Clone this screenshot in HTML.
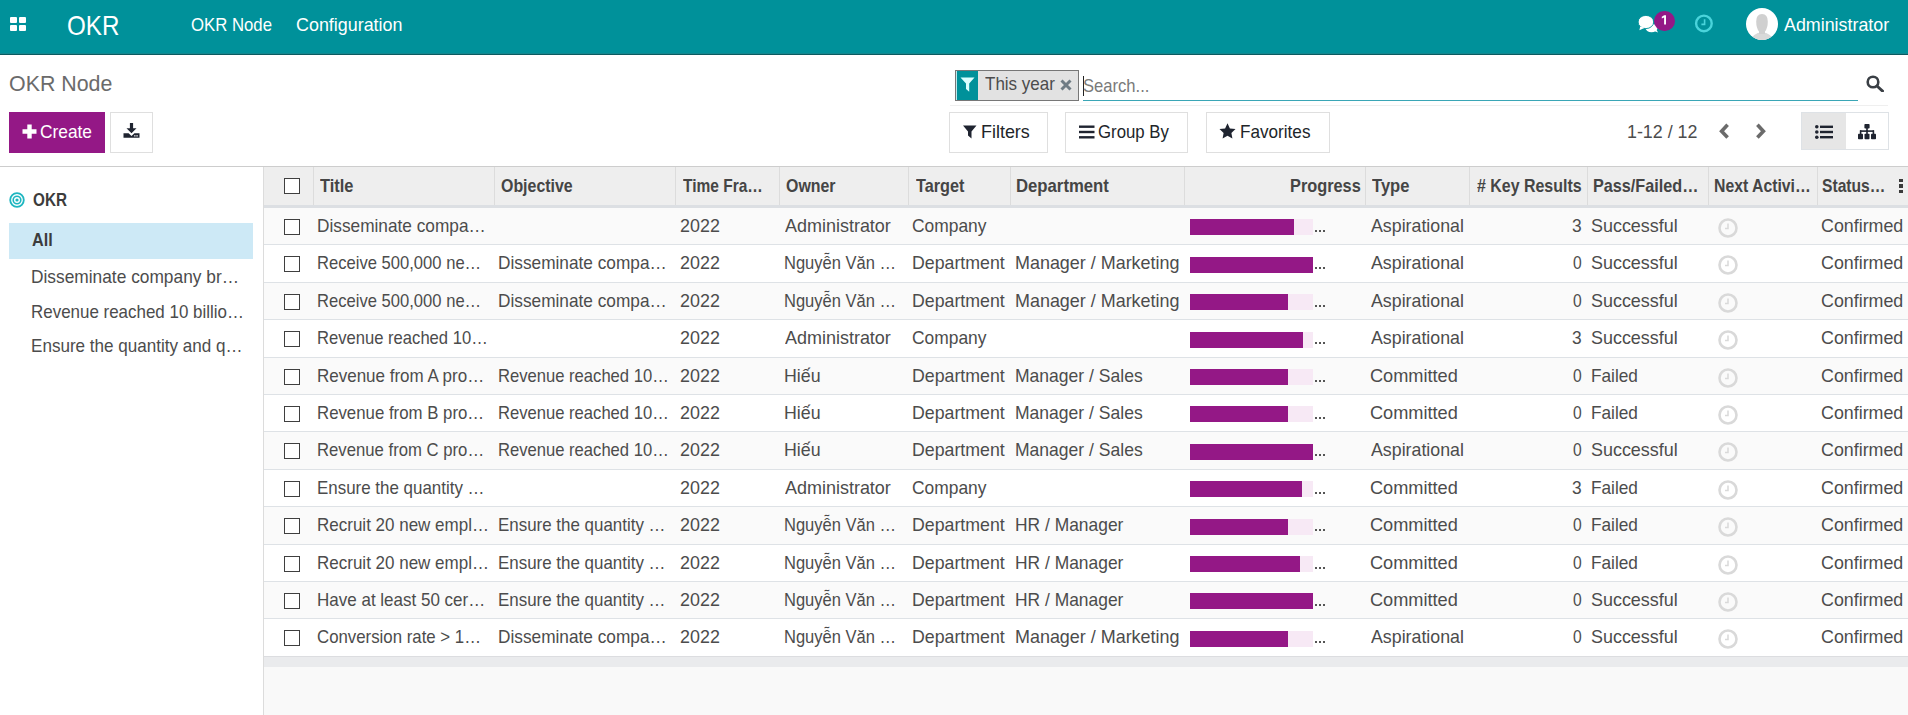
<!DOCTYPE html><html><head><meta charset='utf-8'><title>OKR Node</title><style>
*{box-sizing:border-box}
html,body{margin:0;padding:0}
body{width:1908px;height:715px;overflow:hidden;position:relative;font-family:"Liberation Sans",sans-serif;color:#4c4c4c;background:#fff;font-size:18.2px}
.a{position:absolute;white-space:nowrap}
.t{position:absolute;white-space:nowrap;line-height:24px;transform-origin:0 0}
.btn{position:absolute;border:1px solid #dfdfdf;background:#fff}
.cb{position:absolute;width:16px;height:16px;border:1px solid #3f3f3f;background:#fff}
</style></head><body>
<div class='a' style='left:0;top:0;width:1908px;height:54px;background:#00919a'></div>
<div class='a' style='left:0;top:53px;width:1908px;height:1px;background:#14878f'></div>
<div class='a' style='left:0;top:54px;width:1908px;height:1px;background:#0b5a60'></div>
<div class='a' style='left:10px;top:17px;width:7.2px;height:6.3px;background:#fff;border-radius:1px'></div>
<div class='a' style='left:18.8px;top:17px;width:7.2px;height:6.3px;background:#fff;border-radius:1px'></div>
<div class='a' style='left:10px;top:25px;width:7.2px;height:6.3px;background:#fff;border-radius:1px'></div>
<div class='a' style='left:18.8px;top:25px;width:7.2px;height:6.3px;background:#fff;border-radius:1px'></div>
<div class='t' style='left:67.14px;top:14.00px;transform:scaleX(0.8644);font-size:28px;color:#fff'>OKR</div>
<div class='t' style='left:190.68px;top:12.90px;transform:scaleX(0.9209);color:#fff'>OKR Node</div>
<div class='t' style='left:295.72px;top:12.90px;transform:scaleX(0.9840);color:#fff'>Configuration</div>
<svg class='a' style='left:1636px;top:13px' width='24' height='21' viewBox='0 0 24 21'>
<ellipse cx='15.5' cy='15' rx='6' ry='4.2' fill='#fff'/><path d='M17 17.5 L22 19.5 L19.5 15 Z' fill='#fff'/>
<ellipse cx='9.9' cy='9' rx='7.8' ry='6.6' fill='#fff' stroke='#00919a' stroke-width='0.9'/><path d='M4.2 13.5 L3.4 17.2 L8.8 14.8 Z' fill='#fff'/></svg>
<div class='a' style='left:1653.5px;top:11px;width:21.5px;height:19.5px;border-radius:10px;background:#941886'></div>
<svg class='a' style='left:1660px;top:15px' width='8' height='10' viewBox='0 0 8 10'><path d='M4.2 0.3H6V9.4H4.1V2.6L1.8 3.4V1.8Z' fill='#fff'/></svg>
<svg class='a' style='left:1694px;top:14px' width='19' height='19' viewBox='0 0 19 19'>
<circle cx='9.9' cy='9.4' r='7.8' fill='none' stroke='#4ad4db' stroke-width='2.4'/><path d='M10.6 5.2 V10.4 H7.4' fill='none' stroke='#4ad4db' stroke-width='1.6'/></svg>
<svg class='a' style='left:1746px;top:8px' width='32' height='32' viewBox='0 0 32 32'>
<defs><clipPath id='av'><circle cx='16' cy='16' r='16'/></clipPath></defs>
<circle cx='16' cy='16' r='16' fill='#fff'/>
<g clip-path='url(#av)'><ellipse cx='16' cy='33' rx='11' ry='8.5' fill='#d9d9d9'/><path d='M10.2 13.5 Q10.2 6 16 6 Q21.8 6 21.8 13.5 Q21.8 20 19 23.5 L19 26 L13 26 L13 23.5 Q10.2 20 10.2 13.5 Z' fill='#d0d0d0'/></g></svg>
<div class='t' style='left:1784.00px;top:12.90px;transform:scaleX(0.9813);color:#fff'>Administrator</div>
<div class='t' style='left:8.56px;top:70.90px;transform:scaleX(0.9398);font-size:22.75px;color:#6b6b6b'>OKR Node</div>
<div class='a' style='left:9px;top:112px;width:96px;height:41px;background:#941886'></div>
<svg class='a' style='left:22px;top:123.5px' width='15' height='15' viewBox='0 0 15 15'><path d='M5.3 0.5H9.7V5.3H14.5V9.7H9.7V14.5H5.3V9.7H0.5V5.3H5.3Z' fill='#fff'/></svg>
<div class='t' style='left:40.05px;top:119.80px;transform:scaleX(0.9528);color:#fff'>Create</div>
<div class='btn' style='left:110px;top:112px;width:43px;height:41px'></div>
<svg class='a' style='left:123px;top:122px' width='17' height='18' viewBox='0 0 17 18'><path d='M6.9 1H10.1V6.2H13.5L8.5 11.2L3.5 6.2H6.9Z' fill='#1f2430'/><path d='M0.5 11.2H5.6L8.5 14L11.4 11.2H16.5V15.8H0.5Z' fill='#1f2430'/><rect x='11.2' y='13.2' width='1.3' height='1.3' fill='#fff'/><rect x='13.4' y='13.2' width='1.3' height='1.3' fill='#fff'/></svg>
<div class='a' style='left:950px;top:105px;width:938px;height:1px;background:#efefef'></div>
<div class='a' style='left:955px;top:70px;width:124px;height:31px;border:1px solid #777;background:#e2e2e2'></div>
<div class='a' style='left:956px;top:71px;width:22px;height:29px;background:#00919a;border-left:1px solid #bfe9ec'></div>
<svg class='a' style='left:960px;top:76.8px' width='15' height='16' viewBox='0 0 15 16'><path d='M0.5 0.5H14.5L9.2 6.6V14.8L6 12V6.6Z' fill='#dff'/></svg>
<div class='t' style='left:984.60px;top:71.70px;transform:scaleX(0.9347)'>This year</div>
<svg class='a' style='left:1060px;top:78.5px' width='12' height='12' viewBox='0 0 12 12'><path d='M1.5 1.5L10.5 10.5M10.5 1.5L1.5 10.5' stroke='#6e7b84' stroke-width='3'/></svg>
<div class='a' style='left:1083px;top:76px;width:1px;height:20px;background:#222'></div>
<div class='t' style='left:1083.39px;top:73.80px;transform:scaleX(0.9127);color:#7a7a7a'>Search...</div>
<div class='a' style='left:1083px;top:99.6px;width:775px;height:1.2px;background:#3aa6b6'></div>
<svg class='a' style='left:1866px;top:75px' width='18' height='17' viewBox='0 0 18 17'><circle cx='7' cy='7' r='5.3' fill='none' stroke='#3a3f45' stroke-width='2.6'/><path d='M11 11L16.5 16' stroke='#3a3f45' stroke-width='3' stroke-linecap='round'/></svg>
<div class='btn' style='left:949px;top:112px;width:99px;height:41px'></div>
<svg class='a' style='left:962.5px;top:125px' width='14' height='14' viewBox='0 0 14 14'><path d='M0 0.5H13.5L8.5 6.5V13.5L5 10.5V6.5Z' fill='#1f2430'/></svg>
<div class='t' style='left:981.01px;top:119.80px;transform:scaleX(0.9854);color:#212529'>Filters</div>
<div class='btn' style='left:1065px;top:112px;width:123px;height:41px'></div>
<svg class='a' style='left:1078.5px;top:125px' width='16' height='14' viewBox='0 0 16 14'><rect x='0' y='0.5' width='15.5' height='2.4' fill='#1f2430'/><rect x='0' y='5.8' width='15.5' height='2.4' fill='#1f2430'/><rect x='0' y='11.1' width='15.5' height='2.4' fill='#1f2430'/></svg>
<div class='t' style='left:1098.48px;top:119.80px;transform:scaleX(0.9237);color:#212529'>Group By</div>
<div class='btn' style='left:1206px;top:112px;width:124px;height:41px'></div>
<svg class='a' style='left:1218.5px;top:122.5px' width='17' height='16' viewBox='0 0 17 16'><path d='M8.5 0.3L10.9 5.4L16.5 6.1L12.4 9.9L13.4 15.5L8.5 12.8L3.6 15.5L4.6 9.9L0.5 6.1L6.1 5.4Z' fill='#1f2430'/></svg>
<div class='t' style='left:1240.36px;top:119.80px;transform:scaleX(0.9419);color:#212529'>Favorites</div>
<div class='t' style='left:1627.32px;top:120.00px;transform:scaleX(0.9814)'>1-12 / 12</div>
<svg class='a' style='left:1718px;top:123px' width='12' height='17' viewBox='0 0 12 17'><path d='M9.6 1.8L3.6 8.2L9.6 14.6' fill='none' stroke='#6b6b6b' stroke-width='3.6'/></svg>
<svg class='a' style='left:1755px;top:123px' width='12' height='17' viewBox='0 0 12 17'><path d='M2.4 1.8L8.4 8.2L2.4 14.6' fill='none' stroke='#6b6b6b' stroke-width='3.6'/></svg>
<div class='a' style='left:1801px;top:112px;width:88px;height:37.5px;border:1px solid #dee2e6;background:#fff'></div>
<div class='a' style='left:1802px;top:113px;width:44px;height:35.5px;background:#e6e6e6'></div>
<svg class='a' style='left:1815px;top:124.5px' width='18' height='14' viewBox='0 0 18 14'><circle cx='1.8' cy='1.8' r='1.8' fill='#1f2430'/><circle cx='1.8' cy='7' r='1.8' fill='#1f2430'/><circle cx='1.8' cy='12.2' r='1.8' fill='#1f2430'/><rect x='5' y='0.6' width='13' height='2.4' fill='#1f2430'/><rect x='5' y='5.8' width='13' height='2.4' fill='#1f2430'/><rect x='5' y='11' width='13' height='2.4' fill='#1f2430'/></svg>
<svg class='a' style='left:1858px;top:123.5px' width='18' height='16' viewBox='0 0 18 16'><rect x='6.4' y='0' width='5.2' height='4.6' rx='0.8' fill='#1f2430'/><rect x='8.2' y='4' width='1.6' height='3' fill='#1f2430'/><rect x='2' y='6.3' width='14' height='1.6' fill='#1f2430'/><rect x='1.8' y='6.3' width='1.6' height='4' fill='#1f2430'/><rect x='8.2' y='6.3' width='1.6' height='4' fill='#1f2430'/><rect x='14.6' y='6.3' width='1.6' height='4' fill='#1f2430'/><rect x='0' y='9.8' width='5' height='5.4' rx='0.8' fill='#1f2430'/><rect x='6.5' y='9.8' width='5' height='5.4' rx='0.8' fill='#1f2430'/><rect x='13' y='9.8' width='5' height='5.4' rx='0.8' fill='#1f2430'/></svg>
<div class='a' style='left:0;top:166px;width:1908px;height:1px;background:#cdcdcd'></div>
<div class='a' style='left:263px;top:167px;width:1px;height:548px;background:#dcdcdc'></div>
<svg class='a' style='left:9px;top:192px' width='16' height='16' viewBox='0 0 16 16'><circle cx='8' cy='8' r='6.8' fill='none' stroke='#1eb6c0' stroke-width='1.8'/><circle cx='8' cy='8' r='3.8' fill='none' stroke='#1eb6c0' stroke-width='1.6'/><circle cx='8' cy='8' r='1.6' fill='#1eb6c0'/></svg>
<div class='t' style='left:33.00px;top:187.80px;transform:scaleX(0.8400);font-weight:700;color:#3c3c3c'>OKR</div>
<div class='a' style='left:9px;top:223px;width:244px;height:36px;background:#cde9f6'></div>
<div class='t' style='left:31.60px;top:228.40px;transform:scaleX(0.8909);font-weight:700;color:#3c3c3c'>All</div>
<div class='t' style='left:30.65px;top:265.00px;transform:scaleX(0.9526)'>Disseminate company br…</div>
<div class='t' style='left:30.67px;top:299.50px;transform:scaleX(0.9316)'>Revenue reached 10 billio…</div>
<div class='t' style='left:30.66px;top:333.80px;transform:scaleX(0.9387)'>Ensure the quantity and q…</div>
<div class='a' style='left:264px;top:657px;width:1644px;height:10px;background:#eaebed'></div>
<div class='a' style='left:264px;top:667px;width:1644px;height:48px;background:#f9f9f9'></div>
<div class='a' style='left:264px;top:167px;width:1644px;height:41px;background:#eeeeee;border-bottom:3px solid #dcdfe3'></div>
<div class='a' style='left:313.1px;top:167px;width:1px;height:38px;background:#dcdcdc'></div>
<div class='a' style='left:493.8px;top:167px;width:1px;height:38px;background:#dcdcdc'></div>
<div class='a' style='left:674.9px;top:167px;width:1px;height:38px;background:#dcdcdc'></div>
<div class='a' style='left:778.9px;top:167px;width:1px;height:38px;background:#dcdcdc'></div>
<div class='a' style='left:908.1px;top:167px;width:1px;height:38px;background:#dcdcdc'></div>
<div class='a' style='left:1009.8px;top:167px;width:1px;height:38px;background:#dcdcdc'></div>
<div class='a' style='left:1184.2px;top:167px;width:1px;height:38px;background:#dcdcdc'></div>
<div class='a' style='left:1364.8px;top:167px;width:1px;height:38px;background:#dcdcdc'></div>
<div class='a' style='left:1469.0px;top:167px;width:1px;height:38px;background:#dcdcdc'></div>
<div class='a' style='left:1587.2px;top:167px;width:1px;height:38px;background:#dcdcdc'></div>
<div class='a' style='left:1707.8px;top:167px;width:1px;height:38px;background:#dcdcdc'></div>
<div class='a' style='left:1817.0px;top:167px;width:1px;height:38px;background:#dcdcdc'></div>
<div class='cb' style='left:284px;top:178px'></div>
<div class='t' style='left:319.90px;top:173.80px;transform:scaleX(0.9027);font-weight:700;color:#454545'>Title</div>
<div class='t' style='left:501.00px;top:173.80px;transform:scaleX(0.8756);font-weight:700;color:#454545'>Objective</div>
<div class='t' style='left:683.00px;top:173.80px;transform:scaleX(0.8522);font-weight:700;color:#454545'>Time Fra…</div>
<div class='t' style='left:785.90px;top:173.80px;transform:scaleX(0.8754);font-weight:700;color:#454545'>Owner</div>
<div class='t' style='left:915.80px;top:173.80px;transform:scaleX(0.8926);font-weight:700;color:#454545'>Target</div>
<div class='t' style='left:1016.38px;top:173.80px;transform:scaleX(0.9190);font-weight:700;color:#454545'>Department</div>
<div class='t' style='left:1290.30px;top:173.80px;transform:scaleX(0.8974);font-weight:700;color:#454545'>Progress</div>
<div class='t' style='left:1371.70px;top:173.80px;transform:scaleX(0.9098);font-weight:700;color:#454545'>Type</div>
<div class='t' style='left:1477.00px;top:173.80px;transform:scaleX(0.8765);font-weight:700;color:#454545'># Key Results</div>
<div class='t' style='left:1592.71px;top:173.80px;transform:scaleX(0.8914);font-weight:700;color:#454545'>Pass/Failed…</div>
<div class='t' style='left:1713.83px;top:173.80px;transform:scaleX(0.8679);font-weight:700;color:#454545'>Next Activi…</div>
<div class='t' style='left:1822.34px;top:173.80px;transform:scaleX(0.8592);font-weight:700;color:#454545'>Status…</div>
<div class='a' style='left:1898.5px;top:178.5px;width:4px;height:3.6px;background:#3a3a3a'></div>
<div class='a' style='left:1898.5px;top:184px;width:4px;height:3.6px;background:#3a3a3a'></div>
<div class='a' style='left:1898.5px;top:189.5px;width:4px;height:3.6px;background:#3a3a3a'></div>
<div class='a' style='left:264px;top:208px;width:1644px;height:37px;background:#fafafa;border-bottom:1px solid #dee2e6'></div>
<div class='cb' style='left:284px;top:218.5px'></div>
<div class='t' style='left:317.45px;top:213.70px;transform:scaleX(0.9486)'>Disseminate compa…</div>
<div class='t' style='left:679.92px;top:213.70px;transform:scaleX(0.9846)'>2022</div>
<div class='t' style='left:784.50px;top:213.70px;transform:scaleX(0.9879)'>Administrator</div>
<div class='t' style='left:912.04px;top:213.70px;transform:scaleX(0.9571)'>Company</div>
<div class='a' style='left:1190px;top:219.0px;width:123px;height:16px;background:#f7e9f5'></div>
<div class='a' style='left:1190px;top:219.0px;width:104px;height:16px;background:#941886'></div>
<div class='a' style='left:1315px;top:229.9px;width:2.1px;height:2.1px;background:#555'></div>
<div class='a' style='left:1319px;top:229.9px;width:2.1px;height:2.1px;background:#555'></div>
<div class='a' style='left:1323px;top:229.9px;width:2.1px;height:2.1px;background:#555'></div>
<div class='t' style='left:1370.90px;top:213.70px;transform:scaleX(0.9777)'>Aspirational</div>
<div class='t' style='left:1571.54px;top:213.70px;transform:scaleX(0.9556)'>3</div>
<div class='t' style='left:1591.01px;top:213.70px;transform:scaleX(0.9860)'>Successful</div>
<svg class='a' style='left:1717.5px;top:217.7px' width='20' height='20' viewBox='0 0 20 20'><circle cx='10' cy='10' r='8.5' fill='none' stroke='#d9d9d9' stroke-width='2.6'/><path d='M10 5.5V10.5H7' fill='none' stroke='#d9d9d9' stroke-width='1.5'/></svg>
<div class='t' style='left:1820.82px;top:213.70px;transform:scaleX(0.9805)'>Confirmed</div>
<div class='a' style='left:264px;top:245px;width:1644px;height:38px;background:#fff;border-bottom:1px solid #dee2e6'></div>
<div class='cb' style='left:284px;top:256.0px'></div>
<div class='t' style='left:317.49px;top:251.20px;transform:scaleX(0.9124)'>Receive 500,000 ne…</div>
<div class='t' style='left:498.25px;top:251.20px;transform:scaleX(0.9486)'>Disseminate compa…</div>
<div class='t' style='left:679.92px;top:251.20px;transform:scaleX(0.9846)'>2022</div>
<div class='t' style='left:783.59px;top:251.20px;transform:scaleX(0.9083)'>Nguyễn Văn …</div>
<div class='t' style='left:912.02px;top:251.20px;transform:scaleX(0.9755)'>Department</div>
<div class='t' style='left:1014.81px;top:251.20px;transform:scaleX(0.9861)'>Manager / Marketing</div>
<div class='a' style='left:1190px;top:256.5px;width:123px;height:16px;background:#f7e9f5'></div>
<div class='a' style='left:1190px;top:256.5px;width:123px;height:16px;background:#941886'></div>
<div class='a' style='left:1315px;top:267.4px;width:2.1px;height:2.1px;background:#555'></div>
<div class='a' style='left:1319px;top:267.4px;width:2.1px;height:2.1px;background:#555'></div>
<div class='a' style='left:1323px;top:267.4px;width:2.1px;height:2.1px;background:#555'></div>
<div class='t' style='left:1370.90px;top:251.20px;transform:scaleX(0.9777)'>Aspirational</div>
<div class='t' style='left:1572.50px;top:251.20px;transform:scaleX(0.8600)'>0</div>
<div class='t' style='left:1591.01px;top:251.20px;transform:scaleX(0.9860)'>Successful</div>
<svg class='a' style='left:1717.5px;top:255.2px' width='20' height='20' viewBox='0 0 20 20'><circle cx='10' cy='10' r='8.5' fill='none' stroke='#d9d9d9' stroke-width='2.6'/><path d='M10 5.5V10.5H7' fill='none' stroke='#d9d9d9' stroke-width='1.5'/></svg>
<div class='t' style='left:1820.82px;top:251.20px;transform:scaleX(0.9805)'>Confirmed</div>
<div class='a' style='left:264px;top:283px;width:1644px;height:37px;background:#fafafa;border-bottom:1px solid #dee2e6'></div>
<div class='cb' style='left:284px;top:293.5px'></div>
<div class='t' style='left:317.49px;top:288.70px;transform:scaleX(0.9124)'>Receive 500,000 ne…</div>
<div class='t' style='left:498.25px;top:288.70px;transform:scaleX(0.9486)'>Disseminate compa…</div>
<div class='t' style='left:679.92px;top:288.70px;transform:scaleX(0.9846)'>2022</div>
<div class='t' style='left:783.59px;top:288.70px;transform:scaleX(0.9083)'>Nguyễn Văn …</div>
<div class='t' style='left:912.02px;top:288.70px;transform:scaleX(0.9755)'>Department</div>
<div class='t' style='left:1014.81px;top:288.70px;transform:scaleX(0.9861)'>Manager / Marketing</div>
<div class='a' style='left:1190px;top:294.0px;width:123px;height:16px;background:#f7e9f5'></div>
<div class='a' style='left:1190px;top:294.0px;width:98px;height:16px;background:#941886'></div>
<div class='a' style='left:1315px;top:304.9px;width:2.1px;height:2.1px;background:#555'></div>
<div class='a' style='left:1319px;top:304.9px;width:2.1px;height:2.1px;background:#555'></div>
<div class='a' style='left:1323px;top:304.9px;width:2.1px;height:2.1px;background:#555'></div>
<div class='t' style='left:1370.90px;top:288.70px;transform:scaleX(0.9777)'>Aspirational</div>
<div class='t' style='left:1572.50px;top:288.70px;transform:scaleX(0.8600)'>0</div>
<div class='t' style='left:1591.01px;top:288.70px;transform:scaleX(0.9860)'>Successful</div>
<svg class='a' style='left:1717.5px;top:292.7px' width='20' height='20' viewBox='0 0 20 20'><circle cx='10' cy='10' r='8.5' fill='none' stroke='#d9d9d9' stroke-width='2.6'/><path d='M10 5.5V10.5H7' fill='none' stroke='#d9d9d9' stroke-width='1.5'/></svg>
<div class='t' style='left:1820.82px;top:288.70px;transform:scaleX(0.9805)'>Confirmed</div>
<div class='a' style='left:264px;top:320px;width:1644px;height:38px;background:#fff;border-bottom:1px solid #dee2e6'></div>
<div class='cb' style='left:284px;top:331.0px'></div>
<div class='t' style='left:317.49px;top:326.20px;transform:scaleX(0.9130)'>Revenue reached 10…</div>
<div class='t' style='left:679.92px;top:326.20px;transform:scaleX(0.9846)'>2022</div>
<div class='t' style='left:784.50px;top:326.20px;transform:scaleX(0.9879)'>Administrator</div>
<div class='t' style='left:912.04px;top:326.20px;transform:scaleX(0.9571)'>Company</div>
<div class='a' style='left:1190px;top:331.5px;width:123px;height:16px;background:#f7e9f5'></div>
<div class='a' style='left:1190px;top:331.5px;width:113px;height:16px;background:#941886'></div>
<div class='a' style='left:1315px;top:342.4px;width:2.1px;height:2.1px;background:#555'></div>
<div class='a' style='left:1319px;top:342.4px;width:2.1px;height:2.1px;background:#555'></div>
<div class='a' style='left:1323px;top:342.4px;width:2.1px;height:2.1px;background:#555'></div>
<div class='t' style='left:1370.90px;top:326.20px;transform:scaleX(0.9777)'>Aspirational</div>
<div class='t' style='left:1571.54px;top:326.20px;transform:scaleX(0.9556)'>3</div>
<div class='t' style='left:1591.01px;top:326.20px;transform:scaleX(0.9860)'>Successful</div>
<svg class='a' style='left:1717.5px;top:330.2px' width='20' height='20' viewBox='0 0 20 20'><circle cx='10' cy='10' r='8.5' fill='none' stroke='#d9d9d9' stroke-width='2.6'/><path d='M10 5.5V10.5H7' fill='none' stroke='#d9d9d9' stroke-width='1.5'/></svg>
<div class='t' style='left:1820.82px;top:326.20px;transform:scaleX(0.9805)'>Confirmed</div>
<div class='a' style='left:264px;top:358px;width:1644px;height:37px;background:#fafafa;border-bottom:1px solid #dee2e6'></div>
<div class='cb' style='left:284px;top:368.5px'></div>
<div class='t' style='left:317.47px;top:363.70px;transform:scaleX(0.9341)'>Revenue from A pro…</div>
<div class='t' style='left:498.29px;top:363.70px;transform:scaleX(0.9130)'>Revenue reached 10…</div>
<div class='t' style='left:679.92px;top:363.70px;transform:scaleX(0.9846)'>2022</div>
<div class='t' style='left:783.52px;top:363.70px;transform:scaleX(0.9778)'>Hiếu</div>
<div class='t' style='left:912.02px;top:363.70px;transform:scaleX(0.9755)'>Department</div>
<div class='t' style='left:1014.84px;top:363.70px;transform:scaleX(0.9641)'>Manager / Sales</div>
<div class='a' style='left:1190px;top:369.0px;width:123px;height:16px;background:#f7e9f5'></div>
<div class='a' style='left:1190px;top:369.0px;width:98px;height:16px;background:#941886'></div>
<div class='a' style='left:1315px;top:379.9px;width:2.1px;height:2.1px;background:#555'></div>
<div class='a' style='left:1319px;top:379.9px;width:2.1px;height:2.1px;background:#555'></div>
<div class='a' style='left:1323px;top:379.9px;width:2.1px;height:2.1px;background:#555'></div>
<div class='t' style='left:1369.90px;top:363.70px;transform:scaleX(1.0000)'>Committed</div>
<div class='t' style='left:1572.50px;top:363.70px;transform:scaleX(0.8600)'>0</div>
<div class='t' style='left:1591.05px;top:363.70px;transform:scaleX(0.9479)'>Failed</div>
<svg class='a' style='left:1717.5px;top:367.7px' width='20' height='20' viewBox='0 0 20 20'><circle cx='10' cy='10' r='8.5' fill='none' stroke='#d9d9d9' stroke-width='2.6'/><path d='M10 5.5V10.5H7' fill='none' stroke='#d9d9d9' stroke-width='1.5'/></svg>
<div class='t' style='left:1820.82px;top:363.70px;transform:scaleX(0.9805)'>Confirmed</div>
<div class='a' style='left:264px;top:395px;width:1644px;height:37px;background:#fff;border-bottom:1px solid #dee2e6'></div>
<div class='cb' style='left:284px;top:405.5px'></div>
<div class='t' style='left:317.48px;top:400.70px;transform:scaleX(0.9236)'>Revenue from B pro…</div>
<div class='t' style='left:498.29px;top:400.70px;transform:scaleX(0.9130)'>Revenue reached 10…</div>
<div class='t' style='left:679.92px;top:400.70px;transform:scaleX(0.9846)'>2022</div>
<div class='t' style='left:783.52px;top:400.70px;transform:scaleX(0.9778)'>Hiếu</div>
<div class='t' style='left:912.02px;top:400.70px;transform:scaleX(0.9755)'>Department</div>
<div class='t' style='left:1014.84px;top:400.70px;transform:scaleX(0.9641)'>Manager / Sales</div>
<div class='a' style='left:1190px;top:406.0px;width:123px;height:16px;background:#f7e9f5'></div>
<div class='a' style='left:1190px;top:406.0px;width:98px;height:16px;background:#941886'></div>
<div class='a' style='left:1315px;top:416.9px;width:2.1px;height:2.1px;background:#555'></div>
<div class='a' style='left:1319px;top:416.9px;width:2.1px;height:2.1px;background:#555'></div>
<div class='a' style='left:1323px;top:416.9px;width:2.1px;height:2.1px;background:#555'></div>
<div class='t' style='left:1369.90px;top:400.70px;transform:scaleX(1.0000)'>Committed</div>
<div class='t' style='left:1572.50px;top:400.70px;transform:scaleX(0.8600)'>0</div>
<div class='t' style='left:1591.05px;top:400.70px;transform:scaleX(0.9479)'>Failed</div>
<svg class='a' style='left:1717.5px;top:404.7px' width='20' height='20' viewBox='0 0 20 20'><circle cx='10' cy='10' r='8.5' fill='none' stroke='#d9d9d9' stroke-width='2.6'/><path d='M10 5.5V10.5H7' fill='none' stroke='#d9d9d9' stroke-width='1.5'/></svg>
<div class='t' style='left:1820.82px;top:400.70px;transform:scaleX(0.9805)'>Confirmed</div>
<div class='a' style='left:264px;top:432px;width:1644px;height:38px;background:#fafafa;border-bottom:1px solid #dee2e6'></div>
<div class='cb' style='left:284px;top:443.0px'></div>
<div class='t' style='left:317.48px;top:438.20px;transform:scaleX(0.9184)'>Revenue from C pro…</div>
<div class='t' style='left:498.29px;top:438.20px;transform:scaleX(0.9130)'>Revenue reached 10…</div>
<div class='t' style='left:679.92px;top:438.20px;transform:scaleX(0.9846)'>2022</div>
<div class='t' style='left:783.52px;top:438.20px;transform:scaleX(0.9778)'>Hiếu</div>
<div class='t' style='left:912.02px;top:438.20px;transform:scaleX(0.9755)'>Department</div>
<div class='t' style='left:1014.84px;top:438.20px;transform:scaleX(0.9641)'>Manager / Sales</div>
<div class='a' style='left:1190px;top:443.5px;width:123px;height:16px;background:#f7e9f5'></div>
<div class='a' style='left:1190px;top:443.5px;width:123px;height:16px;background:#941886'></div>
<div class='a' style='left:1315px;top:454.4px;width:2.1px;height:2.1px;background:#555'></div>
<div class='a' style='left:1319px;top:454.4px;width:2.1px;height:2.1px;background:#555'></div>
<div class='a' style='left:1323px;top:454.4px;width:2.1px;height:2.1px;background:#555'></div>
<div class='t' style='left:1370.90px;top:438.20px;transform:scaleX(0.9777)'>Aspirational</div>
<div class='t' style='left:1572.50px;top:438.20px;transform:scaleX(0.8600)'>0</div>
<div class='t' style='left:1591.01px;top:438.20px;transform:scaleX(0.9860)'>Successful</div>
<svg class='a' style='left:1717.5px;top:442.2px' width='20' height='20' viewBox='0 0 20 20'><circle cx='10' cy='10' r='8.5' fill='none' stroke='#d9d9d9' stroke-width='2.6'/><path d='M10 5.5V10.5H7' fill='none' stroke='#d9d9d9' stroke-width='1.5'/></svg>
<div class='t' style='left:1820.82px;top:438.20px;transform:scaleX(0.9805)'>Confirmed</div>
<div class='a' style='left:264px;top:470px;width:1644px;height:37px;background:#fff;border-bottom:1px solid #dee2e6'></div>
<div class='cb' style='left:284px;top:480.5px'></div>
<div class='t' style='left:317.47px;top:475.70px;transform:scaleX(0.9311)'>Ensure the quantity …</div>
<div class='t' style='left:679.92px;top:475.70px;transform:scaleX(0.9846)'>2022</div>
<div class='t' style='left:784.50px;top:475.70px;transform:scaleX(0.9879)'>Administrator</div>
<div class='t' style='left:912.04px;top:475.70px;transform:scaleX(0.9571)'>Company</div>
<div class='a' style='left:1190px;top:481.0px;width:123px;height:16px;background:#f7e9f5'></div>
<div class='a' style='left:1190px;top:481.0px;width:112px;height:16px;background:#941886'></div>
<div class='a' style='left:1315px;top:491.9px;width:2.1px;height:2.1px;background:#555'></div>
<div class='a' style='left:1319px;top:491.9px;width:2.1px;height:2.1px;background:#555'></div>
<div class='a' style='left:1323px;top:491.9px;width:2.1px;height:2.1px;background:#555'></div>
<div class='t' style='left:1369.90px;top:475.70px;transform:scaleX(1.0000)'>Committed</div>
<div class='t' style='left:1571.54px;top:475.70px;transform:scaleX(0.9556)'>3</div>
<div class='t' style='left:1591.05px;top:475.70px;transform:scaleX(0.9479)'>Failed</div>
<svg class='a' style='left:1717.5px;top:479.7px' width='20' height='20' viewBox='0 0 20 20'><circle cx='10' cy='10' r='8.5' fill='none' stroke='#d9d9d9' stroke-width='2.6'/><path d='M10 5.5V10.5H7' fill='none' stroke='#d9d9d9' stroke-width='1.5'/></svg>
<div class='t' style='left:1820.82px;top:475.70px;transform:scaleX(0.9805)'>Confirmed</div>
<div class='a' style='left:264px;top:507px;width:1644px;height:38px;background:#fafafa;border-bottom:1px solid #dee2e6'></div>
<div class='cb' style='left:284px;top:518.0px'></div>
<div class='t' style='left:317.47px;top:513.20px;transform:scaleX(0.9348)'>Recruit 20 new empl…</div>
<div class='t' style='left:498.27px;top:513.20px;transform:scaleX(0.9311)'>Ensure the quantity …</div>
<div class='t' style='left:679.92px;top:513.20px;transform:scaleX(0.9846)'>2022</div>
<div class='t' style='left:783.59px;top:513.20px;transform:scaleX(0.9083)'>Nguyễn Văn …</div>
<div class='t' style='left:912.02px;top:513.20px;transform:scaleX(0.9755)'>Department</div>
<div class='t' style='left:1014.84px;top:513.20px;transform:scaleX(0.9571)'>HR / Manager</div>
<div class='a' style='left:1190px;top:518.5px;width:123px;height:16px;background:#f7e9f5'></div>
<div class='a' style='left:1190px;top:518.5px;width:98px;height:16px;background:#941886'></div>
<div class='a' style='left:1315px;top:529.4px;width:2.1px;height:2.1px;background:#555'></div>
<div class='a' style='left:1319px;top:529.4px;width:2.1px;height:2.1px;background:#555'></div>
<div class='a' style='left:1323px;top:529.4px;width:2.1px;height:2.1px;background:#555'></div>
<div class='t' style='left:1369.90px;top:513.20px;transform:scaleX(1.0000)'>Committed</div>
<div class='t' style='left:1572.50px;top:513.20px;transform:scaleX(0.8600)'>0</div>
<div class='t' style='left:1591.05px;top:513.20px;transform:scaleX(0.9479)'>Failed</div>
<svg class='a' style='left:1717.5px;top:517.2px' width='20' height='20' viewBox='0 0 20 20'><circle cx='10' cy='10' r='8.5' fill='none' stroke='#d9d9d9' stroke-width='2.6'/><path d='M10 5.5V10.5H7' fill='none' stroke='#d9d9d9' stroke-width='1.5'/></svg>
<div class='t' style='left:1820.82px;top:513.20px;transform:scaleX(0.9805)'>Confirmed</div>
<div class='a' style='left:264px;top:545px;width:1644px;height:37px;background:#fff;border-bottom:1px solid #dee2e6'></div>
<div class='cb' style='left:284px;top:555.5px'></div>
<div class='t' style='left:317.47px;top:550.70px;transform:scaleX(0.9348)'>Recruit 20 new empl…</div>
<div class='t' style='left:498.27px;top:550.70px;transform:scaleX(0.9311)'>Ensure the quantity …</div>
<div class='t' style='left:679.92px;top:550.70px;transform:scaleX(0.9846)'>2022</div>
<div class='t' style='left:783.59px;top:550.70px;transform:scaleX(0.9083)'>Nguyễn Văn …</div>
<div class='t' style='left:912.02px;top:550.70px;transform:scaleX(0.9755)'>Department</div>
<div class='t' style='left:1014.84px;top:550.70px;transform:scaleX(0.9571)'>HR / Manager</div>
<div class='a' style='left:1190px;top:556.0px;width:123px;height:16px;background:#f7e9f5'></div>
<div class='a' style='left:1190px;top:556.0px;width:110px;height:16px;background:#941886'></div>
<div class='a' style='left:1315px;top:566.9px;width:2.1px;height:2.1px;background:#555'></div>
<div class='a' style='left:1319px;top:566.9px;width:2.1px;height:2.1px;background:#555'></div>
<div class='a' style='left:1323px;top:566.9px;width:2.1px;height:2.1px;background:#555'></div>
<div class='t' style='left:1369.90px;top:550.70px;transform:scaleX(1.0000)'>Committed</div>
<div class='t' style='left:1572.50px;top:550.70px;transform:scaleX(0.8600)'>0</div>
<div class='t' style='left:1591.05px;top:550.70px;transform:scaleX(0.9479)'>Failed</div>
<svg class='a' style='left:1717.5px;top:554.7px' width='20' height='20' viewBox='0 0 20 20'><circle cx='10' cy='10' r='8.5' fill='none' stroke='#d9d9d9' stroke-width='2.6'/><path d='M10 5.5V10.5H7' fill='none' stroke='#d9d9d9' stroke-width='1.5'/></svg>
<div class='t' style='left:1820.82px;top:550.70px;transform:scaleX(0.9805)'>Confirmed</div>
<div class='a' style='left:264px;top:582px;width:1644px;height:37px;background:#fafafa;border-bottom:1px solid #dee2e6'></div>
<div class='cb' style='left:284px;top:592.5px'></div>
<div class='t' style='left:317.46px;top:587.70px;transform:scaleX(0.9350)'>Have at least 50 cer…</div>
<div class='t' style='left:498.27px;top:587.70px;transform:scaleX(0.9311)'>Ensure the quantity …</div>
<div class='t' style='left:679.92px;top:587.70px;transform:scaleX(0.9846)'>2022</div>
<div class='t' style='left:783.59px;top:587.70px;transform:scaleX(0.9083)'>Nguyễn Văn …</div>
<div class='t' style='left:912.02px;top:587.70px;transform:scaleX(0.9755)'>Department</div>
<div class='t' style='left:1014.84px;top:587.70px;transform:scaleX(0.9571)'>HR / Manager</div>
<div class='a' style='left:1190px;top:593.0px;width:123px;height:16px;background:#f7e9f5'></div>
<div class='a' style='left:1190px;top:593.0px;width:123px;height:16px;background:#941886'></div>
<div class='a' style='left:1315px;top:603.9px;width:2.1px;height:2.1px;background:#555'></div>
<div class='a' style='left:1319px;top:603.9px;width:2.1px;height:2.1px;background:#555'></div>
<div class='a' style='left:1323px;top:603.9px;width:2.1px;height:2.1px;background:#555'></div>
<div class='t' style='left:1369.90px;top:587.70px;transform:scaleX(1.0000)'>Committed</div>
<div class='t' style='left:1572.50px;top:587.70px;transform:scaleX(0.8600)'>0</div>
<div class='t' style='left:1591.01px;top:587.70px;transform:scaleX(0.9860)'>Successful</div>
<svg class='a' style='left:1717.5px;top:591.7px' width='20' height='20' viewBox='0 0 20 20'><circle cx='10' cy='10' r='8.5' fill='none' stroke='#d9d9d9' stroke-width='2.6'/><path d='M10 5.5V10.5H7' fill='none' stroke='#d9d9d9' stroke-width='1.5'/></svg>
<div class='t' style='left:1820.82px;top:587.70px;transform:scaleX(0.9805)'>Confirmed</div>
<div class='a' style='left:264px;top:619px;width:1644px;height:38px;background:#fff;border-bottom:1px solid #dcdde0'></div>
<div class='cb' style='left:284px;top:630.0px'></div>
<div class='t' style='left:317.48px;top:625.20px;transform:scaleX(0.9241)'>Conversion rate > 1…</div>
<div class='t' style='left:498.25px;top:625.20px;transform:scaleX(0.9486)'>Disseminate compa…</div>
<div class='t' style='left:679.92px;top:625.20px;transform:scaleX(0.9846)'>2022</div>
<div class='t' style='left:783.59px;top:625.20px;transform:scaleX(0.9083)'>Nguyễn Văn …</div>
<div class='t' style='left:912.02px;top:625.20px;transform:scaleX(0.9755)'>Department</div>
<div class='t' style='left:1014.81px;top:625.20px;transform:scaleX(0.9861)'>Manager / Marketing</div>
<div class='a' style='left:1190px;top:630.5px;width:123px;height:16px;background:#f7e9f5'></div>
<div class='a' style='left:1190px;top:630.5px;width:98px;height:16px;background:#941886'></div>
<div class='a' style='left:1315px;top:641.4px;width:2.1px;height:2.1px;background:#555'></div>
<div class='a' style='left:1319px;top:641.4px;width:2.1px;height:2.1px;background:#555'></div>
<div class='a' style='left:1323px;top:641.4px;width:2.1px;height:2.1px;background:#555'></div>
<div class='t' style='left:1370.90px;top:625.20px;transform:scaleX(0.9777)'>Aspirational</div>
<div class='t' style='left:1572.50px;top:625.20px;transform:scaleX(0.8600)'>0</div>
<div class='t' style='left:1591.01px;top:625.20px;transform:scaleX(0.9860)'>Successful</div>
<svg class='a' style='left:1717.5px;top:629.2px' width='20' height='20' viewBox='0 0 20 20'><circle cx='10' cy='10' r='8.5' fill='none' stroke='#d9d9d9' stroke-width='2.6'/><path d='M10 5.5V10.5H7' fill='none' stroke='#d9d9d9' stroke-width='1.5'/></svg>
<div class='t' style='left:1820.82px;top:625.20px;transform:scaleX(0.9805)'>Confirmed</div>
</body></html>
